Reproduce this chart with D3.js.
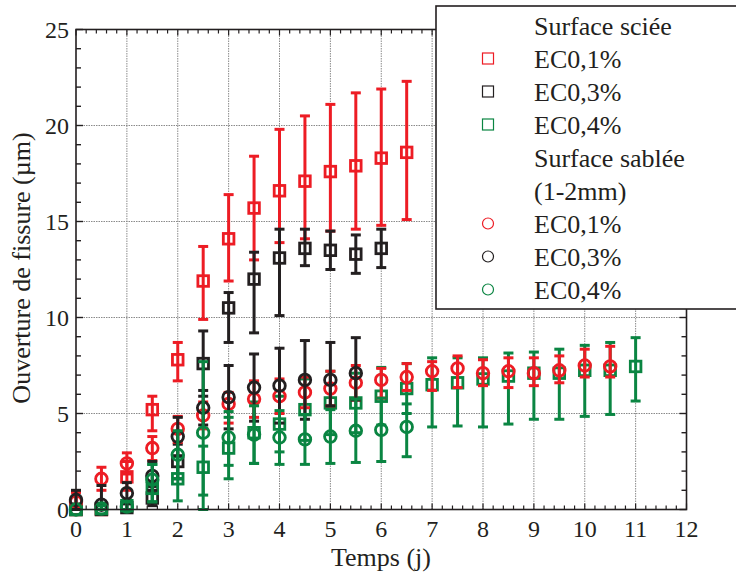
<!DOCTYPE html>
<html><head><meta charset="utf-8">
<script src="https://cdn.jsdelivr.net/npm/d3@7"></script>
<style>
body{margin:0;background:#fff}
text{font-family:"Liberation Serif","Times New Roman",serif;fill:#231f20}
</style>
</head><body><svg id="c" width="736" height="576"></svg>
<script>
// ---------- DATA ----------
const times = [0,0.5,1,1.5,2,2.5,3,3.5,4,4.5,5,5.5,6,6.5,7,7.5,8,8.5,9,9.5,10,10.5,11];
const xTickValues = [0,1,2,3,4,5,6,7,8,9,10,11,12];
const yTickValues = [0,5,10,15,20,25];
const legendGroupTitles = ["Surface sciée", "Surface sablée", "(1-2mm)"];
const seriesLabels = ["EC0,1%", "EC0,3%", "EC0,4%"];
const xLabel = "Temps (j)";
const yLabel = "Ouverture de fissure (µm)";

// Surface sciée (squares)
const scieeEC01   = [0,0,1.7,5.2,7.8,11.9,14.1,15.7,16.6,17.1,17.6,17.9,18.3,18.6];
const scieeEC01Lo = [0,0,1.0,4.1,6.7,9.9,11.9,13.0,13.9,14.1,14.5,14.6,14.8,15.1];
const scieeEC01Hi = [0.9,0,2.5,5.9,8.7,13.7,16.4,18.4,19.8,20.5,21.1,21.7,21.9,22.3];

const scieeEC03   = [0,0,0.1,0.6,2.5,7.6,10.5,12.0,13.1,13.6,13.5,13.3,13.6];
const scieeEC03Lo = [0,0,0,0.2,1.6,5.9,8.7,9.2,10.1,12.7,12.5,12.3,12.6];
const scieeEC03Hi = [0,0,0.3,1.2,3.4,9.3,11.3,13.4,14.6,14.6,14.5,14.3,14.6];

const scieeEC04   = [0,0.05,0.2,1.1,1.6,2.2,3.2,4.0,4.45,5.2,5.55,5.55,5.9,6.3,6.5,6.6,6.8,6.95,7.1,7.1,7.25,7.25,7.45];
const scieeEC04Lo = [0,0,0,0.4,0.45,0.75,1.6,2.4,3.0,3.6,3.9,4.0,4.4,5.0,4.3,4.35,4.3,4.45,4.7,4.7,4.85,4.95,5.65];
const scieeEC04Hi = [0,0.2,0.5,2.35,2.75,3.3,4.8,5.6,5.9,6.8,7.2,7.1,7.4,7.6,7.9,7.9,7.9,8.15,8.2,8.35,8.55,8.7,8.95];

// Surface sablée (circles)
const sableeEC01   = [0.4,1.6,2.4,3.2,4.2,4.9,5.5,5.75,5.9,6.1,6.3,6.6,6.75,6.9,7.2,7.35,7.1,7.2,7.1,7.25,7.5,7.45];
const sableeEC01Lo = [0,1.0,1.85,2.55,3.5,4.2,4.5,4.8,5.0,5.3,5.4,5.7,5.8,6.2,6.2,6.35,6.45,6.35,6.45,6.6,6.9,6.9];
const sableeEC01Hi = [0.9,2.2,2.95,3.8,4.85,5.6,6.1,6.7,6.8,6.9,7.2,7.5,7.35,7.6,7.7,8.0,7.8,7.9,7.9,8.0,8.35,8.5];

const sableeEC03   = [0.5,0.25,0.85,1.75,3.8,5.3,5.85,6.35,6.45,6.75,6.75,7.1];
const sableeEC03Lo = [0,0,0.3,1.0,2.8,4.4,4.2,4.6,4.5,4.7,5.4,5.7];
const sableeEC03Hi = [1.0,1.25,1.4,2.5,4.8,6.2,7.5,8.1,8.4,8.8,8.7,8.95];

const sableeEC04   = [0,0.05,0.15,1.55,2.85,4.0,3.75,3.9,3.75,3.65,3.8,4.1,4.15,4.3];
const sableeEC04Lo = [0,0,0,0.4,1.6,0,2.3,2.4,2.35,2.35,2.4,2.45,2.5,2.75];
const sableeEC04Hi = [0,0.2,0.4,2.35,4.1,7.7,5.1,5.4,5.15,4.95,5.2,5.75,5.8,5.5];

const colors = ["#ED1C24", "#231F20", "#0A8542"];

// ---------- CHART ----------
const svg = d3.select("#c");
const x = d3.scaleLinear().domain([0,12]).range([76, 686.5]);
const y = d3.scaleLinear().domain([0,25]).range([509.5, 29.5]);

const series = [
  {shape:"square", color:colors[0], v:scieeEC01, lo:scieeEC01Lo, hi:scieeEC01Hi},
  {shape:"square", color:colors[1], v:scieeEC03, lo:scieeEC03Lo, hi:scieeEC03Hi},
  {shape:"square", color:colors[2], v:scieeEC04, lo:scieeEC04Lo, hi:scieeEC04Hi},
  {shape:"circle", color:colors[0], v:sableeEC01, lo:sableeEC01Lo, hi:sableeEC01Hi},
  {shape:"circle", color:colors[1], v:sableeEC03, lo:sableeEC03Lo, hi:sableeEC03Hi},
  {shape:"circle", color:colors[2], v:sableeEC04, lo:sableeEC04Lo, hi:sableeEC04Hi}
];

// grid
const grid = svg.append("g").attr("stroke","#8a8a8a").attr("stroke-width",1).attr("stroke-dasharray","1.5,1");
xTickValues.slice(1,-1).forEach(t=>{
  grid.append("line").attr("x1",x(t)).attr("x2",x(t)).attr("y1",y(0)).attr("y2",y(25));
});
yTickValues.slice(1,-1).forEach(t=>{
  grid.append("line").attr("x1",x(0)).attr("x2",x(12)).attr("y1",y(t)).attr("y2",y(t));
});

// series
const capW = 10;
series.forEach(s=>{
  const g = svg.append("g");
  const pts = s.v.map((v,i)=>({t:times[i], v, lo:s.lo[i], hi:s.hi[i]}));
  pts.forEach(p=>{
    if (p.hi - p.lo > 0) {
      g.append("line").attr("x1",x(p.t)).attr("x2",x(p.t)).attr("y1",y(p.lo)).attr("y2",y(p.hi))
        .attr("stroke",s.color).attr("stroke-width",3);
      [p.lo,p.hi].forEach(e=>{
        g.append("line").attr("x1",x(p.t)-capW/2).attr("x2",x(p.t)+capW/2).attr("y1",y(e)).attr("y2",y(e))
          .attr("stroke",s.color).attr("stroke-width",3);
      });
    }
  });
  pts.forEach(p=>{
    if (s.shape==="square") {
      g.append("rect").attr("x",x(p.t)-5.3).attr("y",y(p.v)-5.3).attr("width",10.6).attr("height",10.6)
        .attr("fill","none").attr("stroke",s.color).attr("stroke-width",2.8);
    } else {
      g.append("circle").attr("cx",x(p.t)).attr("cy",y(p.v)).attr("r",5.8)
        .attr("fill","none").attr("stroke",s.color).attr("stroke-width",2.8);
    }
  });
});

// axes frame
const ax = svg.append("g").attr("stroke","#231f20");
ax.append("rect").attr("x",x(0)).attr("y",y(25)).attr("width",x(12)-x(0)).attr("height",y(0)-y(25))
  .attr("fill","none").attr("stroke-width",1.6);
// x ticks (top & bottom), minor every 0.2
d3.range(0,60.5).map(i=>i/5).forEach(t=>{
  const major = Math.abs(t-Math.round(t))<1e-6;
  const L = major?6:4;
  ax.append("line").attr("x1",x(t)).attr("x2",x(t)).attr("y1",y(0)).attr("y2",y(0)-L).attr("stroke-width",1.2);
  ax.append("line").attr("x1",x(t)).attr("x2",x(t)).attr("y1",y(25)).attr("y2",y(25)+L).attr("stroke-width",1.2);
});
// y ticks (left & right), minor every 1
d3.range(0,26).forEach(t=>{
  const major = t%5===0;
  const L = major?7:5;
  ax.append("line").attr("x1",x(0)).attr("x2",x(0)+L).attr("y1",y(t)).attr("y2",y(t)).attr("stroke-width",1.4);
  ax.append("line").attr("x1",x(12)).attr("x2",x(12)-L).attr("y1",y(t)).attr("y2",y(t)).attr("stroke-width",1.4);
});

// tick labels
svg.append("g").selectAll("text").data(xTickValues).join("text")
  .attr("x",d=>x(d)).attr("y",537).attr("text-anchor","middle").attr("font-size",24).text(d=>d);
svg.append("g").selectAll("text").data(yTickValues).join("text")
  .attr("x",69).attr("y",d=>y(d)+8.5).attr("text-anchor","end").attr("font-size",24).text(d=>d);

// axis labels
svg.append("text").attr("x",381).attr("y",566).attr("text-anchor","middle").attr("font-size",26).text(xLabel);
svg.append("text").attr("transform","translate(30,268) rotate(-90)").attr("text-anchor","middle")
  .attr("font-size",26).text(yLabel);

// legend
const lg = svg.append("g");
lg.append("rect").attr("x",436).attr("y",6).attr("width",320).attr("height",303)
  .attr("fill","#fff").attr("stroke","#231f20").attr("stroke-width",1.6);
const rows = [
  {text:legendGroupTitles[0]},
  {text:seriesLabels[0], shape:"square", color:colors[0]},
  {text:seriesLabels[1], shape:"square", color:colors[1]},
  {text:seriesLabels[2], shape:"square", color:colors[2]},
  {text:legendGroupTitles[1]},
  {text:legendGroupTitles[2]},
  {text:seriesLabels[0], shape:"circle", color:colors[0]},
  {text:seriesLabels[1], shape:"circle", color:colors[1]},
  {text:seriesLabels[2], shape:"circle", color:colors[2]}
];
rows.forEach((r,i)=>{
  const by = 35 + i*33;
  lg.append("text").attr("x",534).attr("y",by).attr("font-size",26).text(r.text);
  if (r.shape==="square") {
    lg.append("rect").attr("x",488-5.5).attr("y",by-9.5-5.5).attr("width",11).attr("height",11)
      .attr("fill","none").attr("stroke",r.color).attr("stroke-width",1.2);
  } else if (r.shape==="circle") {
    lg.append("circle").attr("cx",488).attr("cy",by-9.5).attr("r",5.5)
      .attr("fill","none").attr("stroke",r.color).attr("stroke-width",1.2);
  }
});
</script>
</body></html>
